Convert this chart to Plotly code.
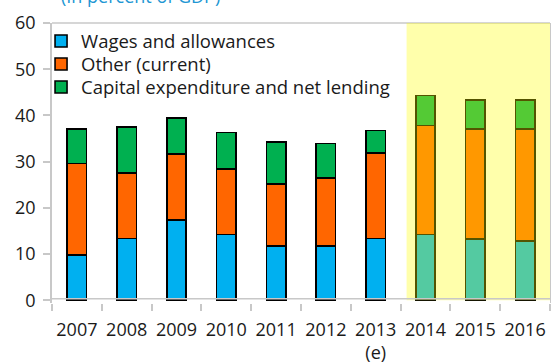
import plotly.graph_objects as go

# Expenditure composition, in percent of GDP
years = ["2007", "2008", "2009", "2010", "2011", "2012", "2013", "2014", "2015", "2016"]
year_labels = ["2007", "2008", "2009", "2010", "2011", "2012", "2013<br>(e)", "2014", "2015", "2016"]
wages = [9.8, 13.4, 17.3, 14.2, 11.8, 11.7, 13.4, 14.2, 13.3, 12.8]
other_current = [19.8, 14.2, 14.3, 14.2, 13.4, 14.7, 18.5, 23.6, 23.7, 24.2]
capital = [7.4, 9.9, 7.9, 7.9, 9.1, 7.5, 4.8, 6.5, 6.4, 6.4]

series = [
    ("Wages and allowances", wages, "#00B0F0"),
    ("Other (current)", other_current, "#FF6600"),
    ("Capital expenditure and net lending", capital, "#00B050"),
]

FONT = "Open Sans, Noto Sans, sans-serif"
GRID_GRAY = "#C8C8C8"

# one legend box per series so the rows can be spaced tightly
legend_ids = ["legend", "legend2", "legend3"]
legend_tops = [1.002, 0.9198, 0.8376]

fig = go.Figure()
for (name, vals, color), lg in zip(series, legend_ids):
    fig.add_trace(go.Bar(
        x=years, y=vals, name=name, width=0.39, legend=lg,
        marker=dict(color=color, line=dict(color="black", width=1.6)),
    ))

legend_style = dict(x=-0.022, xanchor="left", yanchor="top",
                    bgcolor="rgba(0,0,0,0)", font=dict(size=18.5))

fig.update_layout(
    width=551, height=364,
    margin=dict(l=52, r=1, t=23, b=61.2, autoexpand=False),
    barmode="stack",
    plot_bgcolor="white", paper_bgcolor="white",
    font=dict(family=FONT, size=18, color="#1a1a1a"),
    showlegend=True,
    legend=dict(y=legend_tops[0], **legend_style),
    legend2=dict(y=legend_tops[1], **legend_style),
    legend3=dict(y=legend_tops[2], **legend_style),
    xaxis=dict(
        type="category", categoryorder="array", categoryarray=years,
        tickmode="array", tickvals=years, ticktext=year_labels,
        tickangle=0, automargin=False, ticklabelstandoff=14,
        tickson="boundaries", ticks="outside", ticklen=7, tickwidth=1.5,
        tickcolor=GRID_GRAY, showline=False, showgrid=False,
        range=[-0.5, 9.5],
    ),
    yaxis=dict(
        range=[-0.6, 60], tickmode="array", tickvals=[0, 10, 20, 30, 40, 50, 60],
        automargin=False, ticklabelstandoff=4,
        ticks="outside", ticklen=7, tickwidth=1.5, tickcolor=GRID_GRAY,
        showline=True, linecolor=GRID_GRAY, linewidth=1.5, mirror=True,
        showgrid=False, zeroline=False,
    ),
    shapes=[
        # shaded projection period
        dict(type="rect", xref="x", yref="y", x0=6.62, x1=9.5, y0=0, y1=60,
             fillcolor="rgba(255,255,0,0.33)", line=dict(width=0), layer="above"),
        # plot-area top border
        dict(type="line", xref="paper", yref="paper", x0=0, x1=1, y0=1, y1=1,
             line=dict(color=GRID_GRAY, width=1.5), layer="below"),
        # horizontal axis line
        dict(type="line", xref="paper", yref="y", x0=0, x1=1,
             ysizemode="pixel", yanchor=0, y0=1.5, y1=1.5,
             line=dict(color=GRID_GRAY, width=1.6), layer="above"),
    ],
    annotations=[
        dict(text="(In percent of GDP)", xref="paper", yref="paper",
             x=0.014, y=1.045, xanchor="left", yanchor="bottom",
             showarrow=False, font=dict(size=18, color="#2196D3", family=FONT)),
    ],
)

fig.write_html("out.html")
